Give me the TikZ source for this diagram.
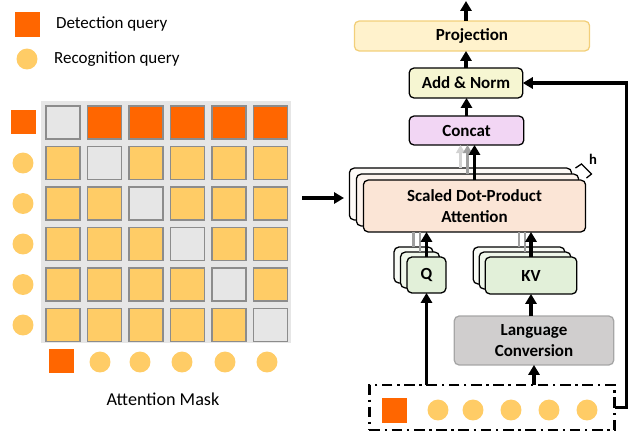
\documentclass[tikz,border=0pt]{standalone}
\usepackage{fontspec}
\setmainfont{Carlito}
\usepackage{tikz}
\usetikzlibrary{arrows.meta}
\usetikzlibrary{calc}

\definecolor{detorange}{HTML}{FF6600}
\definecolor{recyellow}{HTML}{FFCC66}
\definecolor{maskgray}{HTML}{E6E6E6}
\definecolor{cellborder}{HTML}{8C8C8C}
\definecolor{projfill}{HTML}{FFF2CC}
\definecolor{projborder}{HTML}{F2CF7A}
\definecolor{normfill}{HTML}{F6F6D2}
\definecolor{concatfill}{HTML}{F2D6F4}
\definecolor{attfill}{HTML}{FBE5D6}
\definecolor{qkvfill}{HTML}{E2F0D9}
\definecolor{langfill}{HTML}{D0CECE}
\definecolor{langborder}{HTML}{A6A6A6}

\newcommand{\px}{0.8504pt}

\tikzset{
	block/.style={draw, rounded corners=4pt, line width=1.1pt, inner sep=0pt, outer sep=0pt,
		font=\fontsize{14.5}{17.5}\selectfont\bfseries, align=center},
	cell/.style={draw=cellborder, line width=1.1pt, minimum width=34*\px, minimum height=33*\px, inner sep=0pt},
	detsq/.style={fill=detorange, minimum size=25*\px, inner sep=0pt},
	recdot/.style={circle, fill=recyellow, minimum size=21*\px, inner sep=0pt},
	flow/.style={line width=2.7pt, -{Triangle[length=8.5pt,width=9.5pt]}},
	graylink/.style={line width=2.2pt, draw=gray!75},
	lightflow/.style={line width=2.2pt, draw=gray!35, -{Triangle[length=7pt,width=7.5pt]}, fill=gray!35},
	grayflow/.style={line width=2.2pt, draw=gray!75, -{Triangle[length=7pt,width=7.5pt]}, fill=gray!75}
}

\begin{document}
\begin{tikzpicture}[x=0.03cm, y=-0.03cm]
		\useasboundingbox (0,0) rectangle (635,435);
		% legend
		\node[detsq] (legdet) at (27.5,24.5) {};
		\draw (52,24) node[anchor=west, font=\fontsize{14.5}{16}\selectfont] (legdetlbl) {Detection query};
		\node[recdot] (legrec) at (27,59) {};
		\draw (50,59) node[anchor=west, font=\fontsize{14.5}{16}\selectfont] (legreclbl) {Recognition query};

		% attention mask
		\fill[maskgray] (41,101) rectangle (291,343);
		\foreach \r in {0,...,5}{
			\foreach \c in {0,...,5}{
				\ifnum\r=\c \def\cellcol{maskgray}\else\ifnum\r=0 \def\cellcol{detorange}\else\def\cellcol{recyellow}\fi\fi
				\node[cell, fill=\cellcol] (cell-\r-\c) at ({63+41.5*\c},{122.5+40.5*\r}) {};
			}
		}
		\node[detsq] (rowq-0) at (23.5,122) {};
		\foreach \r in {1,...,5}
			\node[recdot] (rowq-\r) at (23,{122.5+40.5*\r}) {};
		\node[detsq] (colq-0) at (61.5,361) {};
		\foreach \x [count=\i] in {100,140,182,225,267}
			\node[recdot] (colq-\i) at (\x,362) {};
		\draw (163,399) node[font=\fontsize{15.5}{17}\selectfont] (masklbl) {Attention Mask};

		\coordinate (maskout) at (302,198);
		\coordinate (attin) at (344,198);
		\draw[flow] (maskout) -- (attin);

		% attention block
		\node[block, fill=projfill, draw=projborder, minimum width=236*\px, minimum height=30*\px] (proj) at (472,36) {Projection};
		\node[block, fill=normfill, minimum width=114*\px, minimum height=30*\px] (an) at (466,83) {Add \& Norm};
		\node[block, fill=concatfill, minimum width=115*\px, minimum height=29*\px] (concat) at (466.5,130.5) {Concat};

		\node[block, fill=attfill!20, minimum width=223*\px, minimum height=52*\px] (attB) at (460.5,194) {};
		\node[block, fill=attfill!45, minimum width=223*\px, minimum height=52*\px] (attM) at (467.5,200) {};
		\node[block, fill=attfill, minimum width=223*\px, minimum height=52*\px] (attF) at (474.5,206) {Scaled Dot-Product\\Attention};

		\node[block, fill=qkvfill!25, minimum width=39*\px, minimum height=36*\px] (qB) at (413.5,265) {};
		\node[block, fill=qkvfill!55, minimum width=39*\px, minimum height=36*\px] (qM) at (420,270) {};
		\node[block, fill=qkvfill, minimum width=39*\px, minimum height=36*\px] (qF) at (426.5,275) {Q};

		\node[block, fill=qkvfill!25, minimum width=92*\px, minimum height=37*\px] (kvB) at (519,265.5) {};
		\node[block, fill=qkvfill!55, minimum width=92*\px, minimum height=37*\px] (kvM) at (525,270.5) {};
		\node[block, fill=qkvfill, minimum width=92*\px, minimum height=37*\px] (kvF) at (531,275.5) {KV};

		\node[block, fill=langfill, draw=langborder, minimum width=160*\px, minimum height=49*\px] (lang) at (534,340.5) {Language\\Conversion};

		% query row
		\node[draw, line width=2.2pt, dash pattern=on 9pt off 4pt on 2pt off 4pt, minimum width=246*\px, minimum height=45*\px, inner sep=0pt, outer sep=0pt] (qbox) at (492,407.5) {};
		\node[detsq] (boxq-0) at (394.5,410.5) {};
		\foreach \x [count=\i] in {438,473,511,549,587}
			\node[recdot] (boxq-\i) at (\x,410) {};

		% connectors
		\coordinate (out) at (466,1);
		\draw[flow] (an.north |- proj.north) -- (out);
		\draw[flow] (an.north) -- (an.north |- proj.south);
		\draw[flow] (concat.north) -- (concat.north |- an.south);
		\draw[lightflow] (attB.north) -- (attB.north |- concat.south);
		\draw[grayflow] (attM.north) -- (attM.north |- concat.south);
		\draw[flow] (attF.north) -- (attF.north |- concat.south);

		\draw[graylink] (qB.north) -- (qB.north |- attF.south);
		\draw[graylink] (qM.north) -- (qM.north |- attF.south);
		\draw[flow] (qF.north) -- (qF.north |- attF.south);
		\draw[graylink] (kvB.north) -- (kvB.north |- attF.south);
		\draw[graylink] (kvM.north) -- (kvM.north |- attF.south);
		\draw[flow] (kvF.north) -- (kvF.north |- attF.south);

		\draw[flow] (lang.north -| kvF.south) -- (kvF.south);
		\draw[flow] (qbox.north -| lang.south) -- (lang.south);
		\draw[flow] (qbox.north -| qF.south) -- (qF.south);
		\draw[flow] (qbox.east) -- ++(12,0) coordinate (fbcorner) |- (an.east);

		% heads
		\draw[line width=1.1pt] (575.5,168) -- (581.5,164) -- (591.5,174) -- (586.5,178);
		\draw (593,159) node[font=\fontsize{12.5}{14}\selectfont\bfseries] (headlbl) {h};
	\end{tikzpicture}
\end{document}
